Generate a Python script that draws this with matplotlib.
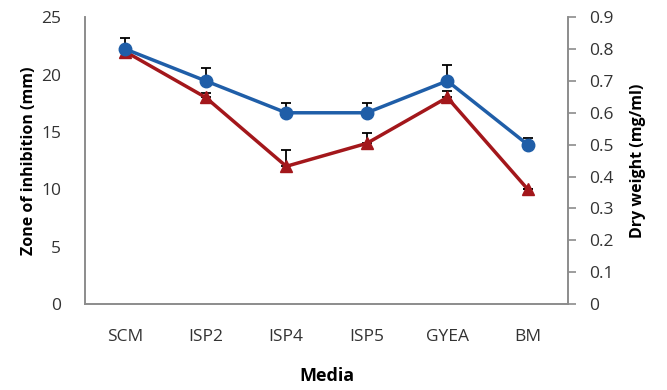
import numpy as np
import matplotlib.pyplot as plt

plt.rcParams['font.family'] = ['Open Sans', 'DejaVu Sans']

# data
media = ["SCM", "ISP2", "ISP4", "ISP5", "GYEA", "BM"]
zone_mm = [22, 18, 12, 14, 18, 10]
zone_err = [0.4, 0.4, 1.4, 0.9, 0.6, 0.0]
dry_wt = [0.8, 0.7, 0.6, 0.6, 0.7, 0.5]
dry_err = [0.035, 0.04, 0.03, 0.03, 0.05, 0.02]

BLUE = "#1f5ea8"
RED = "#a3171b"
GREY = "#8c8c8c"

x = np.arange(len(media))

fig = plt.figure(figsize=(6.67, 3.9), dpi=100)
ax = fig.add_axes([0.1274, 0.2205, 0.7242, 0.7355])
ax2 = ax.twinx()

# zone of inhibition (left axis)
ax.errorbar(x, zone_mm, yerr=[np.zeros(len(x)), zone_err], color=RED, lw=2.5,
            marker="^", ms=9, ecolor="black", elinewidth=1.3, capsize=3.5,
            capthick=1.3, zorder=3)

# dry weight (right axis)
ax2.errorbar(x, dry_wt, yerr=[np.zeros(len(x)), dry_err], color=BLUE, lw=2.5,
             marker="o", ms=9, ecolor="black", elinewidth=1.3, capsize=3.5,
             capthick=1.3, zorder=3)

ax.set_xlim(-0.5, len(media) - 0.5)
ax.set_ylim(0, 25)
ax.set_yticks(range(0, 26, 5))
ax2.set_ylim(0, 0.9)
ax2.set_yticks(np.arange(0, 0.91, 0.1))
ax2.set_yticklabels(["0"] + [f"{v:.1f}" for v in np.arange(0.1, 0.91, 0.1)])

ax.set_xticks(x)
ax.set_xticklabels(media)

for a in (ax, ax2):
    a.spines["top"].set_visible(False)
    for s in ("left", "right", "bottom"):
        a.spines[s].set_color(GREY)
        a.spines[s].set_linewidth(1.2)

ax.tick_params(axis="x", length=0, pad=18, labelsize=12.5, colors="#333333")
ax.tick_params(axis="y", length=0, pad=17, labelsize=12.5, colors="#333333")
ax2.tick_params(axis="y", length=6, width=1.2, color=GREY, pad=9,
                labelsize=12.5, labelcolor="#333333")

ax.set_xlabel("Media", fontsize=13, fontweight="bold", labelpad=16)
ax.set_ylabel("Zone of inhibition (mm)", fontsize=11.5, fontweight="bold", labelpad=3)
ax2.set_ylabel("Dry weight (mg/ml)", fontsize=11.5, fontweight="bold", labelpad=12)

fig.savefig("out.png", dpi=100)
